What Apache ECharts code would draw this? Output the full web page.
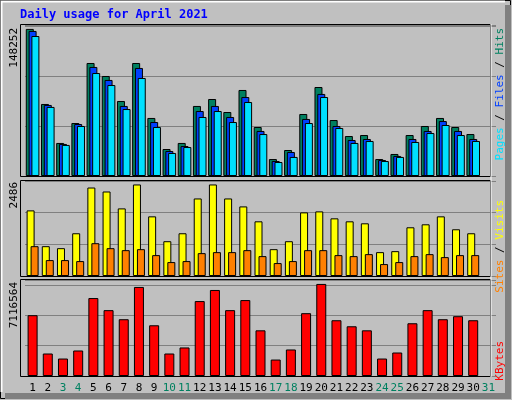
<!DOCTYPE html>
<html><head><meta charset="utf-8">
<script src="https://cdn.jsdelivr.net/npm/echarts@6/dist/echarts.min.js"></script>
<style>html,body{margin:0;padding:0;background:#c0c0c0}#c{width:512px;height:400px}</style>
</head><body><div id="c"></div>
<script>
const days = ['1','2','3','4','5','6','7','8','9','10','11','12','13','14','15','16','17','18','19','20','21','22','23','24','25','26','27','28','29','30','31'];
const weekend = ['3','4','10','11','17','18','24','25','31'];
const hits = [148252,72600,33300,53400,113900,100800,75600,113900,58500,27200,33300,70600,77600,64500,86700,49400,17100,26200,62500,89700,56400,40300,41300,17100,22200,41300,50400,58500,49400,42300,null];
const files = [146200,71600,32300,52400,109900,96800,70600,108900,54400,25200,30200,65500,70600,59500,79600,45400,15100,24200,57500,82700,50400,36300,37300,16100,20200,37300,45400,55400,45400,37300,null];
const pages = [141100,69600,31300,50400,103800,91700,67500,98800,49400,23200,29200,59500,65500,54400,74600,42300,14100,19200,53400,79600,48400,33300,35300,15100,19200,34300,43300,51400,41300,35300,null];
const visits = [1782,810,756,1161,2403,2295,1836,2486,1620,945,1161,2106,2486,2106,1890,1485,729,945,1728,1755,1566,1485,1431,648,675,1323,1404,1620,1269,1161,null];
const sites = [810,432,432,405,891,756,702,729,567,378,405,621,648,648,702,540,351,405,702,702,567,540,594,324,378,540,594,513,567,567,null];
const kbytes = [4700000,1738000,1349000,1972000,6025000,5090000,4388000,6883000,3921000,1738000,2206000,5791000,6649000,5090000,5869000,3531000,1271000,2050000,4856000,7116564,4310000,3843000,3531000,1349000,1816000,4077000,5090000,4388000,4622000,4310000,null];
const maxLabels = ['148252','2486','7116564'];

const F = 'DejaVu Sans Mono';
const chart = echarts.init(document.getElementById('c'));
const grids = [{top:25,height:151},{top:181,height:95},{top:280,height:96}];
const xAxis = grids.map((g,i)=>({type:'category',gridIndex:i,data:days,axisTick:{show:false},
  axisLine:{show:false},
  axisLabel:{show:i===2,interval:0,fontFamily:F,fontSize:11,margin:7,
    color:(v)=>weekend.includes(v)?'#008060':'#000'}}));
const split = {show:true,lineStyle:{color:'#808080',width:1}};
const yAxis = [
  {type:'value',gridIndex:0,min:0,max:152200,interval:50400,axisLabel:{show:false},splitLine:split},
  {type:'value',gridIndex:1,min:0,max:2580,interval:870,axisLabel:{show:false},splitLine:split},
  {type:'value',gridIndex:2,min:0,max:7420000,interval:2340000,axisLabel:{show:false},splitLine:split}
];
const bs = {borderColor:'#000',borderWidth:1};
const series = [
  {type:'bar',xAxisIndex:0,yAxisIndex:0,data:hits,barWidth:8,barGap:'-65%',itemStyle:{color:'#008060',...bs}},
  {type:'bar',xAxisIndex:0,yAxisIndex:0,data:files,barWidth:8,barGap:'-65%',itemStyle:{color:'#0040ff',...bs}},
  {type:'bar',xAxisIndex:0,yAxisIndex:0,data:pages,barWidth:8,barGap:'-65%',itemStyle:{color:'#00e0ff',...bs}},
  {type:'bar',xAxisIndex:1,yAxisIndex:1,data:visits,barWidth:8,barGap:'-50%',itemStyle:{color:'#ffff00',...bs}},
  {type:'bar',xAxisIndex:1,yAxisIndex:1,data:sites,barWidth:8,barGap:'-50%',itemStyle:{color:'#ff8000',...bs}},
  {type:'bar',xAxisIndex:2,yAxisIndex:2,data:kbytes,barWidth:10,itemStyle:{color:'#ff0000',...bs}}
];
const vt = (x,y,text,rich,fs)=>({type:'text',x:x,y:y,rotation:Math.PI/2,z:10,
  style:{text:text,rich:rich,font:(fs||11)+'px '+F,textAlign:'right',textVerticalAlign:'middle',fill:'#000'}});
const graphic = [
  {type:'rect',shape:{x:0.5,y:0.5,width:510,height:398},style:{fill:'none',stroke:'#000',lineWidth:1}},
  {type:'rect',shape:{x:505,y:5,width:6,height:394},style:{fill:'#808080'}},
  {type:'rect',shape:{x:5,y:393,width:506,height:6},style:{fill:'#808080'}},
  {type:'polyline',shape:{points:[[1.5,392],[1.5,1.5],[505,1.5]]},style:{stroke:'#fff',lineWidth:2,fill:'none'}},
  {type:'text',x:20,y:15,style:{text:'Daily usage for April 2021',font:'bold 12px '+F,fill:'#0000ff',textVerticalAlign:'middle'}},
  ...grids.map(g=>({type:'rect',z:5,shape:{x:20.5,y:g.top-0.5,width:470,height:g.height+1},style:{fill:'none',stroke:'#000',lineWidth:1}})),
  {type:'line',z:6,shape:{x1:491,y1:24,x2:491,y2:377},style:{stroke:'#fff',lineWidth:1}},
  vt(14,28,maxLabels[0]), vt(14,182,maxLabels[1]), vt(14,282,maxLabels[2]),
  vt(500,28,'{p|Pages} / {f|Files} / {h|Hits}',{p:{fill:'#00e0ff',font:'11px '+F},f:{fill:'#0040ff',font:'11px '+F},h:{fill:'#008060',font:'11px '+F}}),
  vt(500,200,'{s|Sites} / {v|Visits}',{s:{fill:'#ff8000',font:'11px '+F},v:{fill:'#ffff00',font:'11px '+F}}),
  vt(500,341,'{k|KBytes}',{k:{fill:'#ff0000',font:'11px '+F}})
];
chart.setOption({backgroundColor:'#c0c0c0',animation:false,
  grid:grids.map(g=>({left:25,right:16,top:g.top,height:g.height})),
  xAxis,yAxis,series,graphic});
</script></body></html>
